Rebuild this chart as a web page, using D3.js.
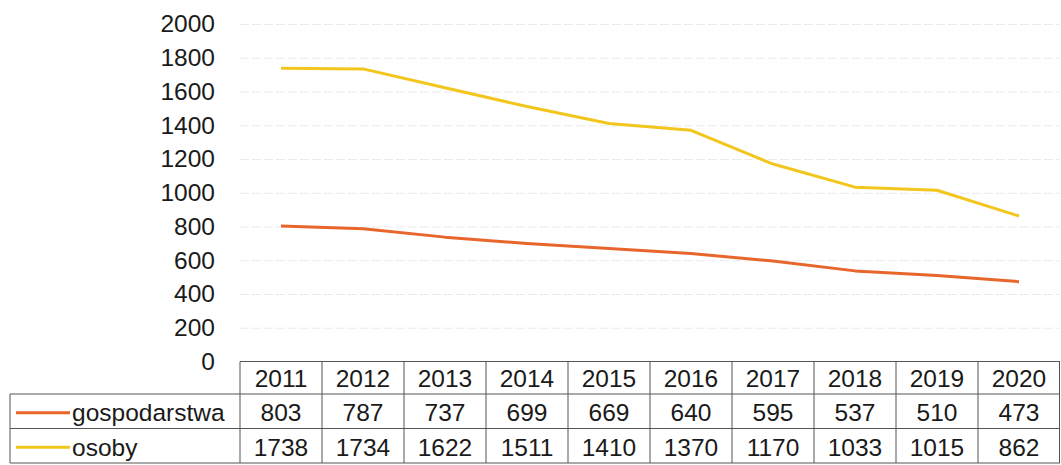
<!DOCTYPE html>
<html>
<head>
<meta charset="utf-8">
<script src="https://cdn.jsdelivr.net/npm/d3@7"></script>
<style>
  html, body { margin: 0; padding: 0; background: #fff; }
  svg { display: block; }
  text { font-family: "Liberation Sans", Arial, sans-serif; fill: #1a1a1a; }
</style>
</head>
<body>
<svg id="chart" width="1061" height="465"></svg>
<script>
const years = ["2011","2012","2013","2014","2015","2016","2017","2018","2019","2020"];
const gospodarstwa = [803, 787, 737, 699, 669, 640, 595, 537, 510, 473];
const osoby = [1738, 1734, 1622, 1511, 1410, 1370, 1170, 1033, 1015, 862];
const seriesNames = ["gospodarstwa", "osoby"];
const yTicks = [0, 200, 400, 600, 800, 1000, 1200, 1400, 1600, 1800, 2000];

(function () {
const series = [
  { name: seriesNames[0], values: gospodarstwa, color: "#E8652B" },
  { name: seriesNames[1], values: osoby, color: "#F2C61C" }
];

const svg = d3.select("#chart");
const pLeft = 240, pRight = 1060, pTop = 24, pBottom = 361.5;
const tableLeft = 10, rowH = 34.5;
const fontSize = 24.5;

const x = d3.scaleBand().domain(years).range([pLeft, pRight]);
const y = d3.scaleLinear().domain([0, 2000]).range([pBottom, pTop]);

// gridlines
svg.append("g")
  .attr("transform", `translate(${pLeft},0)`)
  .call(d3.axisLeft(y).tickValues(yTicks).tickSize(-(pRight - pLeft)).tickFormat(""))
  .call(g => g.select(".domain").remove())
  .call(g => g.selectAll("line").attr("stroke", "#ebebeb").attr("stroke-width", 1.2)
    .attr("stroke-dasharray", "9,3"))
  .call(g => g.selectAll(".tick").filter(d => d === 0).remove());

// y labels
svg.append("g")
  .attr("transform", `translate(215,0)`)
  .call(d3.axisLeft(y).tickValues(yTicks).tickSize(0).tickPadding(0).tickFormat(d3.format("d")))
  .call(g => g.select(".domain").remove())
  .call(g => g.selectAll("text")
    .attr("font-size", fontSize)
    .attr("font-family", "'Liberation Sans', Arial, sans-serif")
    .attr("fill", "#1a1a1a"));

// lines
const line = d3.line()
  .x((d, i) => x(years[i]) + x.bandwidth() / 2)
  .y(d => y(d));

series.forEach(s => {
  svg.append("path")
    .datum(s.values)
    .attr("fill", "none")
    .attr("stroke", s.color)
    .attr("stroke-width", 3)
    .attr("stroke-linejoin", "round")
    .attr("d", line);
});

// table
const tTop = pBottom;
const rows = [tTop, tTop + 32.5, tTop + 32.5 + rowH, tTop + 32.5 + 2 * rowH];
const tg = svg.append("g").attr("stroke", "#555").attr("stroke-width", 1);

tg.append("line").attr("x1", pLeft).attr("x2", pRight).attr("y1", rows[0]).attr("y2", rows[0]);
tg.append("line").attr("x1", tableLeft).attr("x2", pRight).attr("y1", rows[1]).attr("y2", rows[1]);
tg.append("line").attr("x1", tableLeft).attr("x2", pRight).attr("y1", rows[2]).attr("y2", rows[2]);
tg.append("line").attr("x1", tableLeft).attr("x2", pRight).attr("y1", rows[3]).attr("y2", rows[3]);
tg.append("line").attr("x1", tableLeft).attr("x2", tableLeft).attr("y1", rows[1]).attr("y2", rows[3]);
tg.selectAll("line.col").data(years).enter().append("line")
  .attr("class", "col")
  .attr("x1", d => x(d)).attr("x2", d => x(d))
  .attr("y1", rows[0]).attr("y2", rows[3]);
tg.append("line").attr("x1", pRight - 0.5).attr("x2", pRight - 0.5).attr("y1", rows[0]).attr("y2", rows[3]);

// header
svg.append("g").selectAll("text").data(years).enter().append("text")
  .attr("x", d => x(d) + x.bandwidth() / 2)
  .attr("y", (rows[0] + rows[1]) / 2 + 1)
  .attr("dy", "0.35em")
  .attr("text-anchor", "middle")
  .attr("font-size", fontSize)
  .text(d => d);

// data rows
series.forEach((s, r) => {
  const cy = (rows[r + 1] + rows[r + 2]) / 2 + 1.5;
  svg.append("line")
    .attr("x1", 16).attr("x2", 70)
    .attr("y1", cy).attr("y2", cy)
    .attr("stroke", s.color).attr("stroke-width", 3);
  svg.append("text")
    .attr("x", 72).attr("y", cy).attr("dy", "0.35em")
    .attr("font-size", fontSize)
    .text(s.name);
  svg.append("g").selectAll("text").data(s.values).enter().append("text")
    .attr("x", (d, i) => x(years[i]) + x.bandwidth() / 2)
    .attr("y", cy).attr("dy", "0.35em")
    .attr("text-anchor", "middle")
    .attr("font-size", fontSize)
    .text(d => d);
});
})();
</script>
</body>
</html>
